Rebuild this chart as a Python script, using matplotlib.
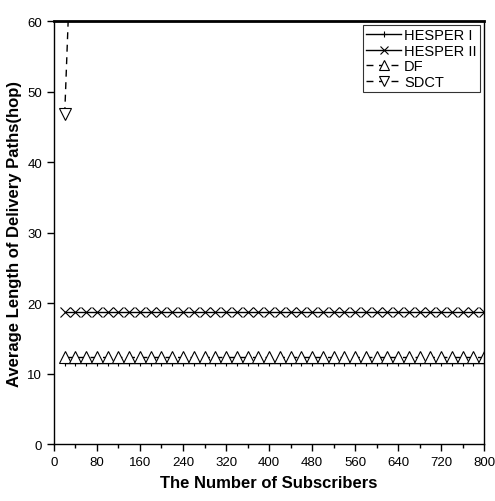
import numpy as np
import matplotlib
matplotlib.use("Agg")
import matplotlib.pyplot as plt
from matplotlib.ticker import MultipleLocator

plt.rcParams['font.family'] = ['Liberation Sans', 'DejaVu Sans']

# subscribers on the x axis
subscribers = list(range(20, 801, 20))

# average delivery path length (hops)
hesper1 = [11.5] * len(subscribers)
hesper2 = [18.7] * len(subscribers)
df_len = [12.3] * len(subscribers)
sdct_x = [20, 40]
sdct = [46.8, 88.0]

fig = plt.figure(figsize=(4.95, 5.02), dpi=100)
ax = fig.add_axes([0.109, 0.1135, 0.869, 0.8425])

ax.plot(subscribers, hesper1, color='black', lw=1, marker='+', ms=5, mew=0.8,
        label='HESPER I')
ax.plot(subscribers, hesper2, color='black', lw=1, marker='x', ms=7, mew=0.8,
        label='HESPER II')
ax.plot(subscribers, df_len, color='black', lw=1, ls=(0, (5, 4)), marker='^', ms=8.5,
        mfc='white', mew=0.8, label='DF')
ax.plot(sdct_x, sdct, color='black', lw=1, ls=(0, (5, 4)), marker='v', ms=8.5,
        mfc='white', mew=0.8, label='SDCT')

ax.set_xlim(0, 800)
ax.set_ylim(0, 60)
ax.xaxis.set_major_locator(MultipleLocator(80))
ax.xaxis.set_minor_locator(MultipleLocator(40))
ax.yaxis.set_major_locator(MultipleLocator(10))
ax.tick_params(axis='both', which='major', direction='out', length=5, width=1,
               labelsize=9.5, top=False, right=False)
ax.tick_params(axis='x', which='minor', direction='out', length=3, width=1,
               top=False)

ax.spines['top'].set_linewidth(2)
for s in ('left', 'bottom', 'right'):
    ax.spines[s].set_linewidth(1)

ax.set_xlabel('The Number of Subscribers', fontsize=12, fontweight='bold', labelpad=5)
ax.set_ylabel('Average Length of Delivery Paths(hop)', fontsize=12,
              fontweight='bold', labelpad=4)

leg = ax.legend(loc='upper right', fontsize=10.5, frameon=True, fancybox=False,
                edgecolor='black', borderpad=0.2, handlelength=2.4,
                handletextpad=0.2, labelspacing=0.1, borderaxespad=0.3,
                markerscale=0.9)
leg.get_frame().set_linewidth(0.8)

fig.savefig('out.png', dpi=100)
